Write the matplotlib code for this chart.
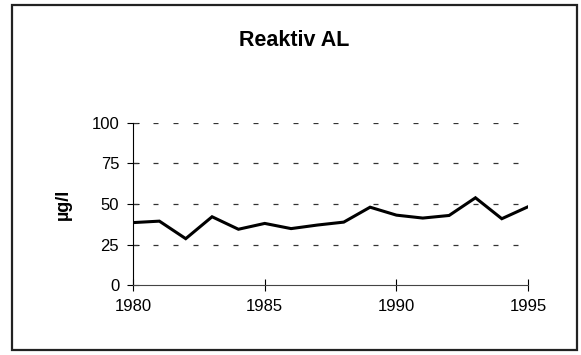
import matplotlib.pyplot as plt
from matplotlib.patches import Rectangle

years = [1980, 1981, 1982, 1983, 1984, 1985, 1986, 1987,
         1988, 1989, 1990, 1991, 1992, 1993, 1994, 1995]
values = [38.5, 39.4, 28.6, 42.1, 34.4, 38.0, 34.8, 37.0,
          38.8, 48.0, 43.1, 41.3, 42.9, 53.8, 40.9, 48.3]
yticks = [0, 25, 50, 75, 100]
xticks = [1980, 1985, 1990, 1995]

plt.rcParams["font.family"] = ["Liberation Sans", "DejaVu Sans"]

fig = plt.figure(figsize=(5.81, 3.55), dpi=100)
ax = fig.add_axes([0.229, 0.197, 0.680, 0.457])

# outer frame around the whole chart
fig.patches.append(Rectangle((0.021, 0.015), 0.972, 0.970, transform=fig.transFigure,
                             fill=False, edgecolor="#222222", linewidth=1.6))

ax.plot(years, values, color="black", linewidth=2.2, solid_joinstyle="miter")

ax.set_xlim(1980, 1995)
ax.set_ylim(0, 100)
ax.set_xticks(xticks)
ax.set_yticks(yticks)
ax.tick_params(direction="inout", length=8, width=0.8, labelsize=12, pad=6)
ax.tick_params(axis="x", pad=6)

for y in yticks[1:]:
    ax.axhline(y, color="#333333", linewidth=0.9, linestyle=(0, (4, 12)))

for side in ["top", "right"]:
    ax.spines[side].set_visible(False)
ax.spines["left"].set_linewidth(0.8)
ax.spines["bottom"].set_linewidth(0.8)
ax.spines["bottom"].set_color("#444444")

ax.set_ylabel("µg/l", fontsize=13, fontweight="bold", labelpad=14)
fig.text(0.507, 1 - 40 / 355, "Reaktiv AL", ha="center", va="center",
         fontsize=15.5, fontweight="bold")

fig.savefig("out.png", dpi=100, facecolor="white")
